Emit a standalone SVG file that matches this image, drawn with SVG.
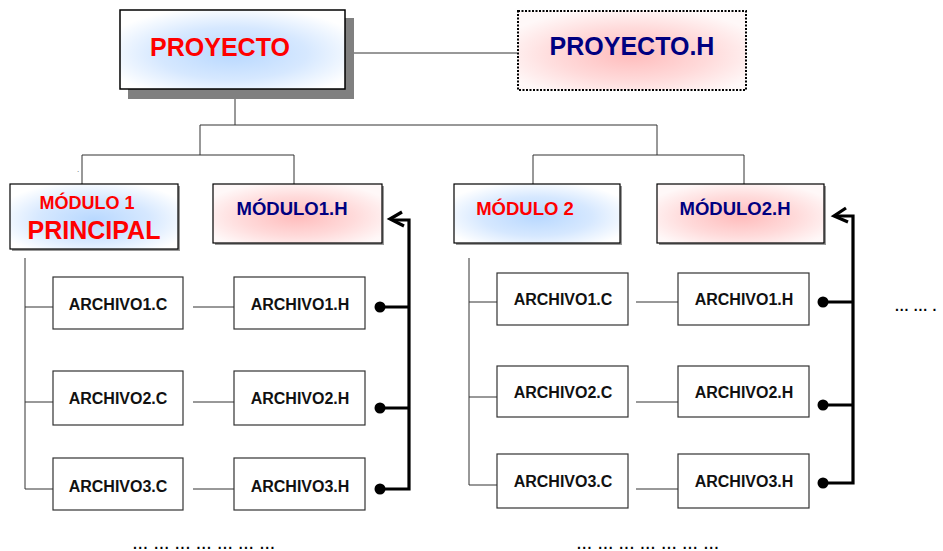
<svg xmlns="http://www.w3.org/2000/svg" width="943" height="551" viewBox="0 0 943 551">
<style>
.t{font-family:"Liberation Sans",Arial,sans-serif;font-weight:bold;text-anchor:middle}
.red{fill:#ff0000}
.navy{fill:#000080}
.blk{fill:#111}
.box{stroke:#000;stroke-width:1.2}
.arc{fill:#fff;stroke:#333;stroke-width:1.2}
.ln{fill:none;stroke:#333;stroke-width:1}
.thk{fill:none;stroke:#000;stroke-width:3.2}
.dots{font-family:"Liberation Sans",Arial,sans-serif;font-weight:bold;font-size:14px;fill:#000;letter-spacing:1.4px}
</style>
<defs>
<radialGradient id="gb" cx="0.5" cy="0.55" r="0.6">
<stop offset="0" stop-color="#b8d8ff"/>
<stop offset="0.55" stop-color="#d6e8ff"/>
<stop offset="1" stop-color="#ffffff"/>
</radialGradient>
<radialGradient id="gp" cx="0.5" cy="0.55" r="0.6">
<stop offset="0" stop-color="#ffbcbc"/>
<stop offset="0.55" stop-color="#ffdada"/>
<stop offset="1" stop-color="#fff8f8"/>
</radialGradient>
</defs>
<rect width="943" height="551" fill="#fff"/>
<g id="connectors">
<line class="ln" x1="345" y1="53" x2="517" y2="53"/>
<polyline class="ln" points="235,99 235,125"/>
<polyline class="ln" points="200,155 200,125 657,125 657,155"/>
<polyline class="ln" points="82,184 82,155 294,155 294,184"/>
<polyline class="ln" points="533,184 533,155 744,155 744,184"/>
<line class="ln" x1="25" y1="258" x2="25" y2="489"/>
<line class="ln" x1="25" y1="307" x2="53" y2="307"/>
<line class="ln" x1="25" y1="402" x2="53" y2="402"/>
<line class="ln" x1="25" y1="489" x2="53" y2="489"/>
<line class="ln" x1="193" y1="307" x2="234" y2="307"/>
<line class="ln" x1="193" y1="402" x2="234" y2="402"/>
<line class="ln" x1="193" y1="489" x2="234" y2="489"/>
<line class="ln" x1="469" y1="258" x2="469" y2="485"/>
<line class="ln" x1="469" y1="302" x2="497" y2="302"/>
<line class="ln" x1="469" y1="397" x2="497" y2="397"/>
<line class="ln" x1="469" y1="485" x2="497" y2="485"/>
<line class="ln" x1="636" y1="302" x2="678" y2="302"/>
<line class="ln" x1="636" y1="402" x2="678" y2="402"/>
<line class="ln" x1="636" y1="489" x2="678" y2="489"/>
<path class="thk" d="M380,307H409M380,408H409M380,489H409V220H393"/>
<path class="thk" d="M402,212L390,219L404,226"/>
<circle cx="380" cy="307" r="5.5"/>
<circle cx="380" cy="408" r="5.5"/>
<circle cx="380" cy="489" r="5.5"/>
<path class="thk" d="M823,302H853M823,405H853M823,483H853V216H836"/>
<path class="thk" d="M846,208L834,216L848,222"/>
<circle cx="823" cy="302" r="5.5"/>
<circle cx="823" cy="405" r="5.5"/>
<circle cx="823" cy="483" r="5.5"/>
</g>
<g id="proyecto">
<rect x="128" y="18" width="226" height="81" fill="#808080"/>
<rect x="120" y="10" width="225" height="79" fill="url(#gb)" stroke="#000" stroke-width="1.5"/>
<text class="t red" x="220" y="56" font-size="25">PROYECTO</text>
</g>
<g id="proyecto-h">
<rect x="518" y="11" width="228" height="79" fill="url(#gp)" stroke="#000" stroke-width="2" stroke-dasharray="2,1.5"/>
<text class="t navy" x="632" y="55" font-size="25">PROYECTO.H</text>
</g>
<text x="77" y="172" font-family="Liberation Sans,sans-serif" font-size="8" fill="#555">.</text>
<g id="modulo1">
<rect x="12" y="186" width="168" height="65" fill="#999"/>
<rect class="box" x="10" y="184" width="168" height="65" fill="url(#gb)"/>
<text class="t red" x="87" y="209" font-size="18">MÓDULO 1</text>
<text class="t red" x="94" y="239" font-size="25">PRINCIPAL</text>
</g>
<g id="modulo1-h">
<rect x="215" y="186" width="169" height="59" fill="#999"/>
<rect class="box" x="213" y="184" width="169" height="59" fill="url(#gp)"/>
<text class="t navy" x="292" y="215" font-size="18.5">MÓDULO1.H</text>
</g>
<g id="modulo2">
<rect x="456" y="186" width="166" height="59" fill="#999"/>
<rect class="box" x="454" y="184" width="166" height="59" fill="url(#gb)"/>
<text class="t red" x="525" y="215" font-size="18.5">MÓDULO 2</text>
</g>
<g id="modulo2-h">
<rect x="659" y="186" width="167" height="59" fill="#999"/>
<rect class="box" x="657" y="184" width="167" height="59" fill="url(#gp)"/>
<text class="t navy" x="735" y="215" font-size="18.5">MÓDULO2.H</text>
</g>
<g id="m1-archivo1c"><rect class="arc" x="53" y="277" width="130" height="52"/><text class="t blk" x="118" y="310" font-size="16">ARCHIVO1.C</text></g>
<g id="m1-archivo1h"><rect class="arc" x="234" y="277" width="131" height="52"/><text class="t blk" x="300" y="310" font-size="16">ARCHIVO1.H</text></g>
<g id="m1-archivo2c"><rect class="arc" x="53" y="371" width="130" height="54"/><text class="t blk" x="118" y="404" font-size="16">ARCHIVO2.C</text></g>
<g id="m1-archivo2h"><rect class="arc" x="234" y="371" width="131" height="54"/><text class="t blk" x="300" y="404" font-size="16">ARCHIVO2.H</text></g>
<g id="m1-archivo3c"><rect class="arc" x="53" y="458" width="130" height="52"/><text class="t blk" x="118" y="492" font-size="16">ARCHIVO3.C</text></g>
<g id="m1-archivo3h"><rect class="arc" x="234" y="458" width="131" height="52"/><text class="t blk" x="300" y="492" font-size="16">ARCHIVO3.H</text></g>
<g id="m2-archivo1c"><rect class="arc" x="497" y="273" width="131" height="52"/><text class="t blk" x="563" y="305" font-size="16">ARCHIVO1.C</text></g>
<g id="m2-archivo1h"><rect class="arc" x="678" y="273" width="131" height="52"/><text class="t blk" x="744" y="305" font-size="16">ARCHIVO1.H</text></g>
<g id="m2-archivo2c"><rect class="arc" x="497" y="366" width="131" height="51"/><text class="t blk" x="563" y="398" font-size="16">ARCHIVO2.C</text></g>
<g id="m2-archivo2h"><rect class="arc" x="678" y="366" width="131" height="51"/><text class="t blk" x="744" y="398" font-size="16">ARCHIVO2.H</text></g>
<g id="m2-archivo3c"><rect class="arc" x="497" y="454" width="131" height="54"/><text class="t blk" x="563" y="487" font-size="16">ARCHIVO3.C</text></g>
<g id="m2-archivo3h"><rect class="arc" x="678" y="454" width="131" height="54"/><text class="t blk" x="744" y="487" font-size="16">ARCHIVO3.H</text></g>
<text class="dots" x="133" y="549">... ... ... ... ... ... ...</text>
<text class="dots" x="577" y="549">... ... ... ... ... ... ...</text>
<text class="dots" x="895" y="311" style="letter-spacing:0.8px">... ... .</text>
</svg>
